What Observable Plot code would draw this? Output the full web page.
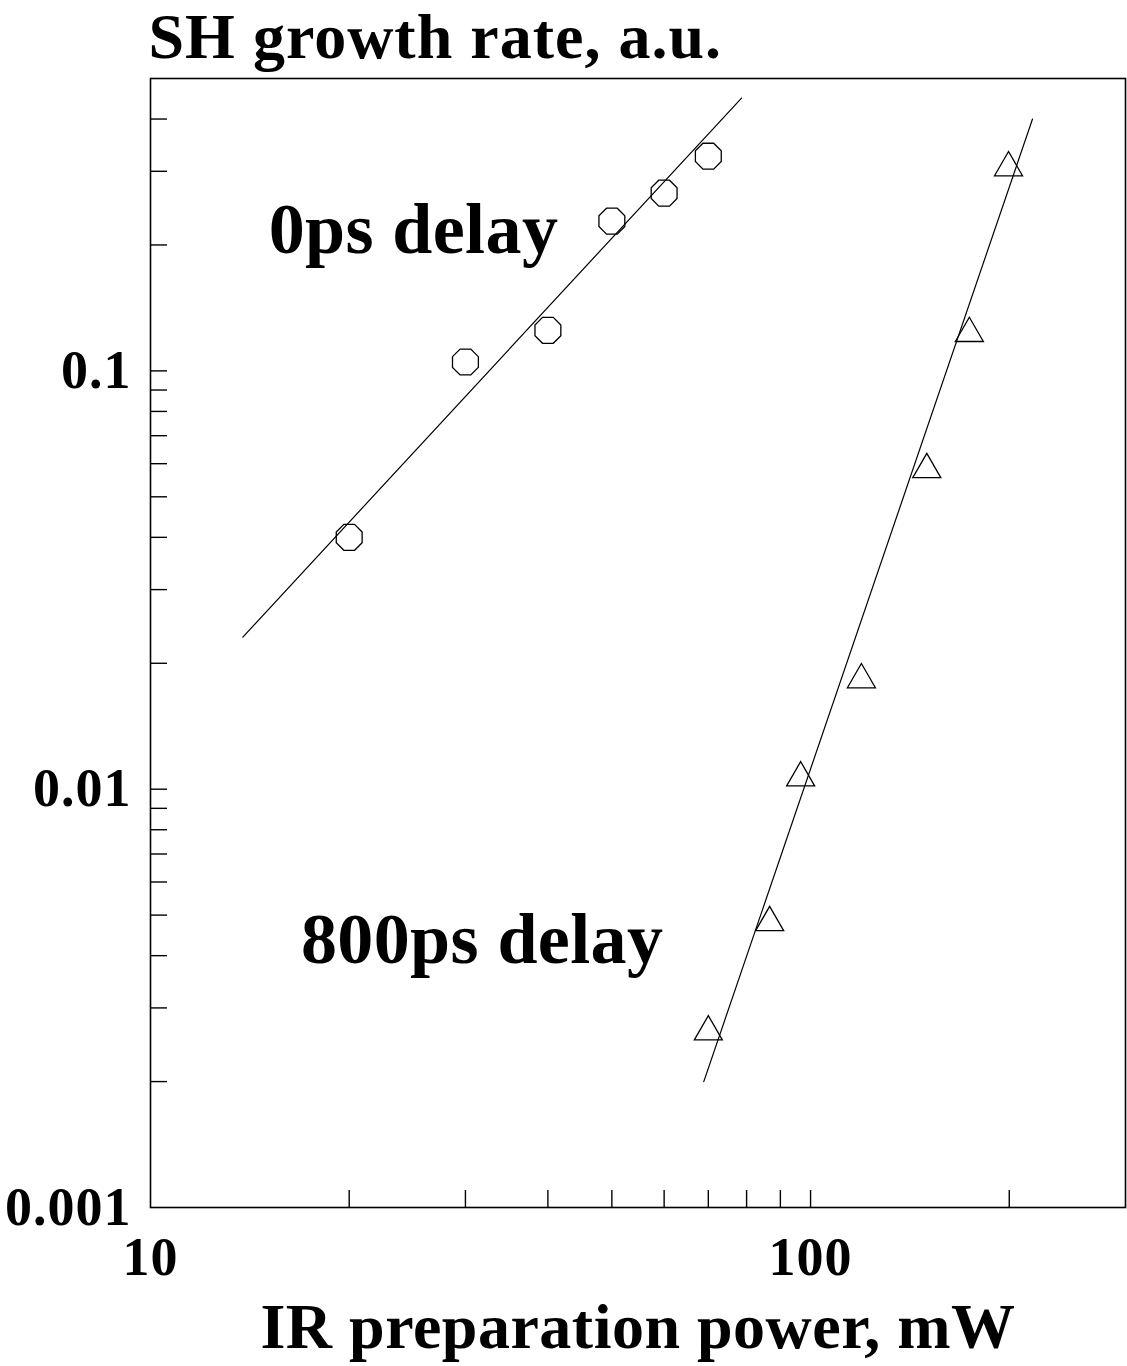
<!DOCTYPE html>
<html>
<head>
<meta charset="utf-8">
<script src="https://cdn.jsdelivr.net/npm/d3@7"></script>
<script src="https://cdn.jsdelivr.net/npm/@observablehq/plot@0.6"></script>
<style>
  html, body { margin: 0; padding: 0; background: #fff; }
  #chart { width: 1127px; height: 1366px; }
</style>
</head>
<body>
<div id="chart"></div>
<script>
// ---- data ----
const power0ps = [20, 30, 40, 50, 60, 70];
const rate0ps = [0.040, 0.105, 0.125, 0.228, 0.266, 0.326];
const fit0psX = [13.8, 78.6];
const fit0psY = [0.0231, 0.449];

const power800ps = [70, 86.7, 96.6, 119.4, 150, 174, 199.5];
const rate800ps = [0.00263, 0.0048, 0.01065, 0.01827, 0.0581, 0.1229, 0.306];
const fit800psX = [68.9, 216.9];
const fit800psY = [0.0020, 0.400];

const yMinorTicks = [0.002,0.003,0.004,0.005,0.006,0.007,0.008,0.009,0.01,
  0.02,0.03,0.04,0.05,0.06,0.07,0.08,0.09,0.1,0.2,0.3,0.4];
const yTickLabels = [0.001, 0.01, 0.1];
const yTickText = ["0.001", "0.01", "0.1"];
const xMinorTicks = [20,30,40,50,60,70,80,90,100,200];
const xTickLabels = [10, 100];
const xTickText = ["10", "100"];

const annotationText = ["0ps delay", "800ps delay"];
const annotationX = [15.1, 16.9];
const annotationY = [0.1914, 0.00385];

const titleText = "SH growth rate, a.u.";
const xLabelText = "IR preparation power, mW";

// ---- build tables ----
const pts0 = power0ps.map((x, i) => ({x, y: rate0ps[i]}));
const pts800 = power800ps.map((x, i) => ({x, y: rate800ps[i]}));
const fit0 = fit0psX.map((x, i) => ({x, y: fit0psY[i]}));
const fit800 = fit800psX.map((x, i) => ({x, y: fit800psY[i]}));
const annotations = annotationText.map((t, i) => ({t, x: annotationX[i], y: annotationY[i]}));

const octagon = {
  draw(context, size) {
    const r = Math.sqrt(size / Math.PI);
    for (let k = 0; k < 8; ++k) {
      const a = Math.PI / 8 + k * Math.PI / 4;
      const px = r * Math.cos(a), py = r * Math.sin(a);
      if (k === 0) context.moveTo(px, py); else context.lineTo(px, py);
    }
    context.closePath();
  }
};

const W = 1127, H = 1366;
const mL = 150, mR = 2, mT = 78, mB = 159;
const plotW = W - mL - mR, plotH = H - mT - mB;
const tickLen = 17;

const chart = Plot.plot({
  width: W,
  height: H,
  marginLeft: mL,
  marginRight: mR,
  marginTop: mT,
  marginBottom: mB,
  style: {fontFamily: "'Liberation Serif', 'Times New Roman', serif", background: "#fff", color: "#000", overflow: "visible"},
  x: {type: "log", domain: [10, 300], axis: null},
  y: {type: "log", domain: [0.001, 0.5], axis: null},
  marks: [
    Plot.tickY(yMinorTicks, {y: d => d, insetRight: plotW - tickLen, stroke: "#000", strokeWidth: 1.4}),
    Plot.tickX(xMinorTicks, {x: d => d, insetTop: plotH - tickLen, stroke: "#000", strokeWidth: 1.4}),
    Plot.frame({stroke: "#000", strokeWidth: 1.6}),
    Plot.line(fit0, {x: "x", y: "y", stroke: "#000", strokeWidth: 1.2}),
    Plot.line(fit800, {x: "x", y: "y", stroke: "#000", strokeWidth: 1.2}),
    Plot.dot(pts0, {x: "x", y: "y", symbol: octagon, r: 14, stroke: "#000", strokeWidth: 1.3, fill: "none"}),
    Plot.dot(pts800, {x: "x", y: "y", symbol: "triangle", r: 10.4, stroke: "#000", strokeWidth: 1.3, fill: "none"}),
    Plot.text(yTickLabels, {y: d => d, text: (d, i) => yTickText[i], frameAnchor: "left", textAnchor: "end", lineAnchor: "middle", dx: -19, fontSize: 54, fontWeight: "bold", fill: "#000"}),
    Plot.text(xTickLabels, {x: d => d, text: (d, i) => xTickText[i], frameAnchor: "bottom", textAnchor: "middle", lineAnchor: "bottom", dy: 67, fontSize: 54, fontWeight: "bold", fill: "#000"}),
    Plot.text(annotations, {x: "x", y: "y", text: "t", textAnchor: "start", lineAnchor: "bottom", fontSize: 72, fontWeight: "bold", fill: "#000"}),
    Plot.text([titleText], {text: d => d, frameAnchor: "top-left", textAnchor: "start", lineAnchor: "bottom", dx: -2, dy: -21, fontSize: 64, fontWeight: "bold", fill: "#000"}),
    Plot.text([xLabelText], {text: d => d, frameAnchor: "bottom", textAnchor: "middle", lineAnchor: "bottom", dy: 140, fontSize: 64, fontWeight: "bold", fill: "#000"})
  ]
});

document.getElementById("chart").appendChild(chart);

// letter spacing per text layer (in mark order)
const textGroups = chart.querySelectorAll('g[aria-label="text"]');
const spacing = [1, 1, 0.4, 1, 0.5];
textGroups.forEach((g, i) => g.setAttribute("letter-spacing", spacing[i] ?? 0));
</script>
</body>
</html>
